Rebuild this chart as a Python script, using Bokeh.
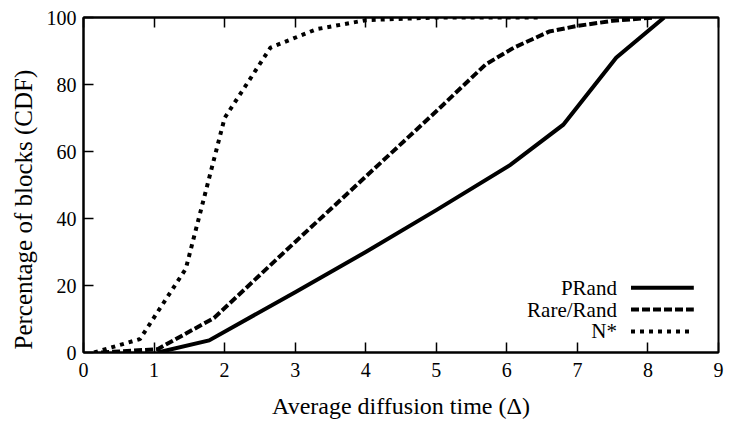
from bokeh.plotting import figure
from bokeh.models import LinearAxis, Range1d, Label, Arrow, FixedTicker, Title
from bokeh.embed import file_html
from bokeh.resources import INLINE

# ---- data ----
prand_x = [1.05, 1.78, 3.0, 4.0, 5.0, 6.05, 6.8, 7.55, 8.23]
prand_y = [0, 3.6, 18, 30, 42.5, 56, 68, 88, 100]

rare_x = [0.25, 1.05, 1.85, 3.0, 4.0, 5.0, 5.7, 6.1, 6.6, 7.0, 7.5, 8.1]
rare_y = [0, 1, 10.3, 33, 52.5, 72, 86, 91, 95.8, 97.5, 99, 100]

nstar_x = [0.15, 0.8, 1.45, 2.0, 2.65, 3.3, 4.0, 5.0, 6.5]
nstar_y = [0, 4, 25, 70, 91, 96.5, 99.2, 100, 100]

series_names = ["PRand", "Rare/Rand", "N*"]
x_ticks = [0, 1, 2, 3, 4, 5, 6, 7, 8, 9]
y_ticks = [0, 20, 40, 60, 80, 100]
x_title = "Average diffusion time (Δ)"
y_title = "Percentage of blocks (CDF)"

FONT = "'Liberation Serif', 'Times New Roman', serif"

p = figure(width=725, height=421,
           x_range=Range1d(0, 9), y_range=Range1d(0, 100),
           output_backend="svg", toolbar_location=None,
           min_border_left=83, min_border_right=7,
           min_border_top=17, min_border_bottom=68)
p.background_fill_color = "white"
p.border_fill_color = "white"
p.grid.visible = False
p.outline_line_color = "black"
p.outline_line_width = 2

def style_axis(ax):
    ax.axis_line_color = "black"
    ax.axis_line_width = 2
    ax.major_tick_in = 10
    ax.major_tick_out = 0
    ax.major_tick_line_width = 1.5
    ax.major_tick_line_color = "black"
    ax.minor_tick_line_color = None
    ax.major_label_text_font = FONT
    ax.major_label_text_color = "black"
    ax.major_label_text_font_size = "20px"
    ax.axis_label_text_font = FONT
    ax.axis_label_text_font_style = "normal"
    ax.axis_label_text_color = "black"
    ax.axis_label_text_font_size = "24px"

xa = p.xaxis[0]
xa.ticker = FixedTicker(ticks=x_ticks)
style_axis(xa)
xa.axis_label = x_title
xa.major_label_standoff = 10
xa.axis_label_standoff = 13

ya = p.yaxis[0]
ya.ticker = FixedTicker(ticks=y_ticks)
style_axis(ya)
ya.major_label_standoff = 7

top = LinearAxis(ticker=FixedTicker(ticks=x_ticks))
style_axis(top)
top.major_label_overrides = {t: "" for t in x_ticks}
top.major_label_standoff = 0
p.add_layout(top, "above")

# y title, starting near the bottom of the frame like the original
p.add_layout(Title(text=y_title, align="left", offset=3, standoff=13,
                   text_font=FONT, text_font_size="25px",
                   text_font_style="normal", text_color="black"), "left")

# ---- curves ----
p.line(prand_x, prand_y, line_color="black", line_width=4, line_join="miter")
p.line(rare_x, rare_y, line_color="black", line_width=4, line_dash="8 3", line_cap="butt")
p.line(nstar_x, nstar_y, line_color="black", line_width=4, line_dash="4 5", line_cap="butt")

# ---- legend (gnuplot style: text right-aligned, sample to the right) ----
dashes = ["solid", "8 3", "4 5"]
leg_y = [19.3, 12.8, 6.3]
for name, dash, ly in zip(series_names, dashes, leg_y):
    p.add_layout(Label(x=7.56, y=ly, text=name, text_align="right",
                       text_baseline="middle", text_font=FONT,
                       text_font_size="21px", text_color="black"))
    p.add_layout(Arrow(x_start=7.76, y_start=ly, x_end=8.65, y_end=ly,
                       end=None, line_color="black", line_width=4,
                       line_dash=dash, line_cap="butt"))

open("out.html", "w").write(file_html(p, INLINE))
